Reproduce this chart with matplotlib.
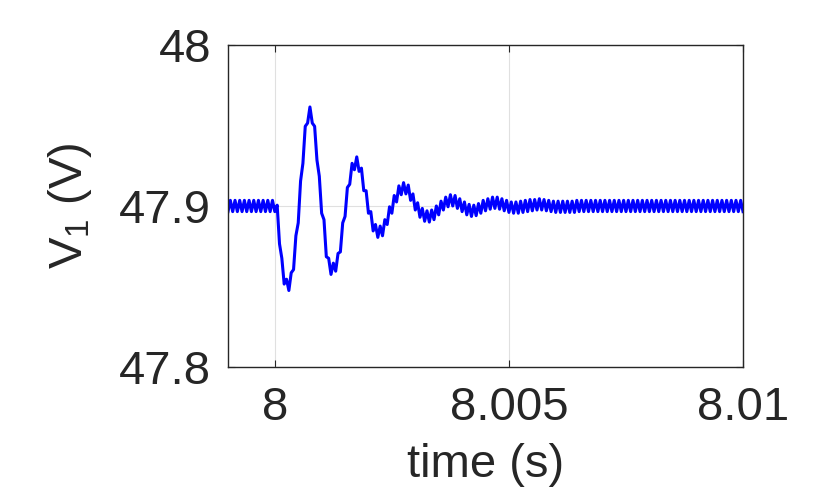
import matplotlib
matplotlib.use("Agg")
import matplotlib.pyplot as plt
import numpy as np

plt.rcParams["font.family"] = ["Liberation Sans", "DejaVu Sans"]
plt.rcParams["mathtext.fontset"] = "custom"
plt.rcParams["mathtext.rm"] = "Liberation Sans"
plt.rcParams["mathtext.it"] = "Liberation Sans"

# muestreo: 7.999 s a 8.010 s cada 50 us (221 muestras)
t_inicio = 7.999
paso = 0.00005

# V1 (V), una muestra por paso
v1 = [
    47.8965, 47.9035, 47.8965, 47.9035, 47.8965, 47.9035, 47.8965, 47.9035, 47.8965, 47.9035,
    47.8965, 47.9035, 47.8965, 47.9035, 47.8965, 47.9035, 47.8965, 47.9035, 47.8965, 47.9035,
    47.8965, 47.9005, 47.8765, 47.8675, 47.8515, 47.8545, 47.8475, 47.8585, 47.8605, 47.8815,
    47.8895, 47.9155, 47.9265, 47.9495, 47.9515, 47.9615, 47.9515, 47.9495, 47.9285, 47.9185,
    47.8955, 47.8915, 47.8685, 47.8675, 47.8575, 47.8645, 47.8595, 47.8705, 47.8715, 47.8895,
    47.8935, 47.9115, 47.9135, 47.9265, 47.9225, 47.9305, 47.9215, 47.9235, 47.9095, 47.9095,
    47.8955, 47.8965, 47.8845, 47.8885, 47.8805, 47.8875, 47.8815, 47.8915, 47.8885, 47.8995,
    47.8955, 47.9065, 47.9025, 47.9125, 47.9070, 47.9145, 47.9075, 47.9130, 47.9035, 47.9075,
    47.8975, 47.9020, 47.8930, 47.8985, 47.8905, 47.8970, 47.8900, 47.8975, 47.8915, 47.9000,
    47.8945, 47.9030, 47.8975, 47.9055, 47.8995, 47.9070, 47.9000, 47.9065, 47.8985, 47.9045,
    47.8965, 47.9025, 47.8945, 47.9010, 47.8935, 47.9005, 47.8940, 47.9015, 47.8955, 47.9035,
    47.8970, 47.9045, 47.8980, 47.9055, 47.8985, 47.9055, 47.8980, 47.9045, 47.8970, 47.9035,
    47.8960, 47.9025, 47.8955, 47.9025, 47.8955, 47.9030, 47.8960, 47.9035, 47.8965, 47.9040,
    47.8970, 47.9040, 47.8975, 47.9045, 47.8975, 47.9040, 47.8970, 47.9035, 47.8965, 47.9030,
    47.8960, 47.9030, 47.8960, 47.9030, 47.8960, 47.9030, 47.8960, 47.9030, 47.8960, 47.9035,
    47.8965, 47.9035, 47.8965, 47.9035, 47.8965, 47.9035, 47.8965, 47.9035, 47.8965, 47.9035,
    47.8965, 47.9035, 47.8965, 47.9035, 47.8965, 47.9035, 47.8965, 47.9035, 47.8965, 47.9035,
    47.8965, 47.9035, 47.8965, 47.9035, 47.8965, 47.9035, 47.8965, 47.9035, 47.8965, 47.9035,
    47.8965, 47.9035, 47.8965, 47.9035, 47.8965, 47.9035, 47.8965, 47.9035, 47.8965, 47.9035,
    47.8965, 47.9035, 47.8965, 47.9035, 47.8965, 47.9035, 47.8965, 47.9035, 47.8965, 47.9035,
    47.8965, 47.9035, 47.8965, 47.9035, 47.8965, 47.9035, 47.8965, 47.9035, 47.8965, 47.9035,
    47.8965, 47.9035, 47.8965, 47.9035, 47.8965, 47.9035, 47.8965, 47.9035, 47.8965, 47.9035,
    47.8965,
]

x_ticks = [8.0, 8.005, 8.01]
x_labels = ["8", "8.005", "8.01"]
y_ticks = [47.8, 47.9, 48.0]
y_labels = ["47.8", "47.9", "48"]

t = t_inicio + paso * np.arange(len(v1))

fig = plt.figure(figsize=(8.3, 4.97), dpi=100)
ax = fig.add_axes([0.2747, 0.2616, 0.6205, 0.6479])

ax.plot(t, v1, color=(0, 0, 1), lw=2.2)

ax.set_xlim(7.999, 8.01)
ax.set_ylim(47.8, 48.0)
ax.set_xticks(x_ticks, x_labels)
ax.set_yticks(y_ticks, y_labels)
ax.grid(True, color="#e0e0e0", lw=0.8)
ax.set_axisbelow(True)

gris = "#262626"
for s in ax.spines.values():
    s.set_color(gris)
    s.set_linewidth(1.0)
ax.tick_params(direction="in", length=5, width=0.8, color=gris,
               labelcolor=gris, labelsize=34, top=True, right=True)
ax.tick_params(axis="x", pad=14)
ax.tick_params(axis="y", pad=12)

ax.set_xlabel("time (s)", fontsize=34, color=gris, labelpad=9)
ax.set_ylabel(r"V$_1$ (V)", fontsize=34, color=gris, labelpad=18)

fig.savefig("out.png", dpi=100)
